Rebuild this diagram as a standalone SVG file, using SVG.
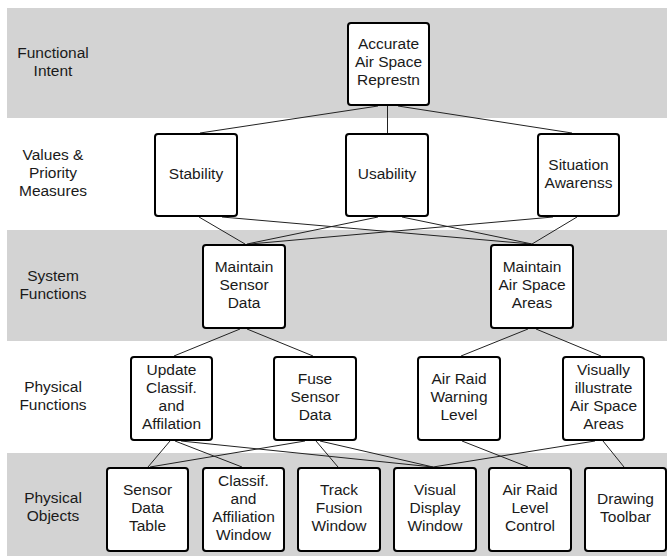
<svg xmlns="http://www.w3.org/2000/svg" width="667" height="558" viewBox="0 0 667 558">
  <style>
    .band { fill: #d3d3d3; }
    .box { fill: #ffffff; stroke: #000000; stroke-width: 2; }
    .txt { font-family: "Liberation Sans", Arial, sans-serif; font-size: 15.5px; fill: #1a1a1a; text-anchor: middle; }
    .lvl { font-family: "Liberation Sans", Arial, sans-serif; font-size: 15.5px; fill: #1a1a1a; text-anchor: middle; }
    .conn line { stroke: #222222; stroke-width: 1; }
  </style>

  <!-- level bands -->
  <g id="bands">
    <rect class="band" x="7" y="8" width="660" height="110"/>
    <rect class="band" x="7" y="230" width="660" height="111"/>
    <rect class="band" x="7" y="453" width="660" height="103"/>
  </g>

  <!-- level names -->
  <g id="levels">
    <text class="lvl" x="53" y="58">Functional</text>
    <text class="lvl" x="53" y="76">Intent</text>
    <text class="lvl" x="53" y="160">Values &amp;</text>
    <text class="lvl" x="53" y="178">Priority</text>
    <text class="lvl" x="53" y="196">Measures</text>
    <text class="lvl" x="53" y="281">System</text>
    <text class="lvl" x="53" y="299">Functions</text>
    <text class="lvl" x="53" y="392">Physical</text>
    <text class="lvl" x="53" y="410">Functions</text>
    <text class="lvl" x="53" y="503">Physical</text>
    <text class="lvl" x="53" y="521">Objects</text>
  </g>

  <!-- connectors -->
  <g id="connectors" class="conn">
    <line x1="378" y1="106" x2="200" y2="133"/>
    <line x1="387.5" y1="106" x2="387.5" y2="133"/>
    <line x1="398" y1="106" x2="572" y2="133"/>

    <line x1="199" y1="217" x2="245" y2="244"/>
    <line x1="222" y1="217" x2="531" y2="244"/>
    <line x1="378" y1="217" x2="247" y2="244"/>
    <line x1="402" y1="217" x2="532" y2="244"/>
    <line x1="553" y1="217" x2="250" y2="244"/>
    <line x1="577" y1="217" x2="532" y2="244"/>

    <line x1="240" y1="329" x2="174" y2="356"/>
    <line x1="247" y1="329" x2="313" y2="356"/>
    <line x1="528" y1="329" x2="461" y2="356"/>
    <line x1="536" y1="329" x2="601" y2="356"/>

    <line x1="170" y1="441" x2="148" y2="467"/>
    <line x1="175" y1="441" x2="242" y2="467"/>
    <line x1="181" y1="441" x2="433" y2="467"/>
    <line x1="305" y1="441" x2="150" y2="467"/>
    <line x1="316" y1="441" x2="338" y2="467"/>
    <line x1="320" y1="441" x2="433" y2="467"/>
    <line x1="462" y1="441" x2="528" y2="467"/>
    <line x1="595" y1="441" x2="433" y2="467"/>
    <line x1="603" y1="441" x2="624" y2="467"/>
  </g>

  <!-- functional intent -->
  <g id="accurate-air-space">
    <rect class="box" x="348" y="23" width="81" height="82" rx="3"/>
    <text class="txt" x="388.5" y="49">Accurate</text>
    <text class="txt" x="388.5" y="67">Air Space</text>
    <text class="txt" x="388.5" y="85">Represtn</text>
  </g>

  <!-- values and priority measures -->
  <g id="stability">
    <rect class="box" x="155" y="134" width="82" height="82" rx="3"/>
    <text class="txt" x="196" y="179">Stability</text>
  </g>
  <g id="usability">
    <rect class="box" x="346" y="134" width="82" height="82" rx="3"/>
    <text class="txt" x="387" y="179">Usability</text>
  </g>
  <g id="situation-awareness">
    <rect class="box" x="538" y="134" width="81" height="82" rx="3"/>
    <text class="txt" x="578.5" y="170">Situation</text>
    <text class="txt" x="578.5" y="188">Awarenss</text>
  </g>

  <!-- system functions -->
  <g id="maintain-sensor-data">
    <rect class="box" x="203" y="245" width="82" height="83" rx="3"/>
    <text class="txt" x="244" y="272">Maintain</text>
    <text class="txt" x="244" y="290">Sensor</text>
    <text class="txt" x="244" y="308">Data</text>
  </g>
  <g id="maintain-air-space-areas">
    <rect class="box" x="491" y="245" width="82" height="83" rx="3"/>
    <text class="txt" x="532" y="272">Maintain</text>
    <text class="txt" x="532" y="290">Air Space</text>
    <text class="txt" x="532" y="308">Areas</text>
  </g>

  <!-- physical functions -->
  <g id="update-classif">
    <rect class="box" x="131" y="357" width="81" height="83" rx="3"/>
    <text class="txt" x="171.5" y="375">Update</text>
    <text class="txt" x="171.5" y="393">Classif.</text>
    <text class="txt" x="171.5" y="411">and</text>
    <text class="txt" x="171.5" y="429">Affilation</text>
  </g>
  <g id="fuse-sensor-data">
    <rect class="box" x="274" y="357" width="82" height="83" rx="3"/>
    <text class="txt" x="315" y="384">Fuse</text>
    <text class="txt" x="315" y="402">Sensor</text>
    <text class="txt" x="315" y="420">Data</text>
  </g>
  <g id="air-raid-warning">
    <rect class="box" x="418" y="357" width="82" height="83" rx="3"/>
    <text class="txt" x="459" y="384">Air Raid</text>
    <text class="txt" x="459" y="402">Warning</text>
    <text class="txt" x="459" y="420">Level</text>
  </g>
  <g id="visually-illustrate">
    <rect class="box" x="563" y="357" width="81" height="83" rx="3"/>
    <text class="txt" x="603.5" y="375">Visually</text>
    <text class="txt" x="603.5" y="393">illustrate</text>
    <text class="txt" x="603.5" y="411">Air Space</text>
    <text class="txt" x="603.5" y="429">Areas</text>
  </g>

  <!-- physical objects -->
  <g id="sensor-data-table">
    <rect class="box" x="107" y="468" width="81" height="83" rx="3"/>
    <text class="txt" x="147.5" y="495">Sensor</text>
    <text class="txt" x="147.5" y="513">Data</text>
    <text class="txt" x="147.5" y="531">Table</text>
  </g>
  <g id="classif-affiliation-window">
    <rect class="box" x="203" y="468" width="81" height="83" rx="3"/>
    <text class="txt" x="243.5" y="486">Classif.</text>
    <text class="txt" x="243.5" y="504">and</text>
    <text class="txt" x="243.5" y="522">Affiliation</text>
    <text class="txt" x="243.5" y="540">Window</text>
  </g>
  <g id="track-fusion-window">
    <rect class="box" x="298" y="468" width="82" height="83" rx="3"/>
    <text class="txt" x="339" y="495">Track</text>
    <text class="txt" x="339" y="513">Fusion</text>
    <text class="txt" x="339" y="531">Window</text>
  </g>
  <g id="visual-display-window">
    <rect class="box" x="394" y="468" width="82" height="83" rx="3"/>
    <text class="txt" x="435" y="495">Visual</text>
    <text class="txt" x="435" y="513">Display</text>
    <text class="txt" x="435" y="531">Window</text>
  </g>
  <g id="air-raid-level-control">
    <rect class="box" x="489" y="468" width="82" height="83" rx="3"/>
    <text class="txt" x="530" y="495">Air Raid</text>
    <text class="txt" x="530" y="513">Level</text>
    <text class="txt" x="530" y="531">Control</text>
  </g>
  <g id="drawing-toolbar">
    <rect class="box" x="585" y="468" width="81" height="83" rx="3"/>
    <text class="txt" x="625.5" y="504">Drawing</text>
    <text class="txt" x="625.5" y="522">Toolbar</text>
  </g>
</svg>
